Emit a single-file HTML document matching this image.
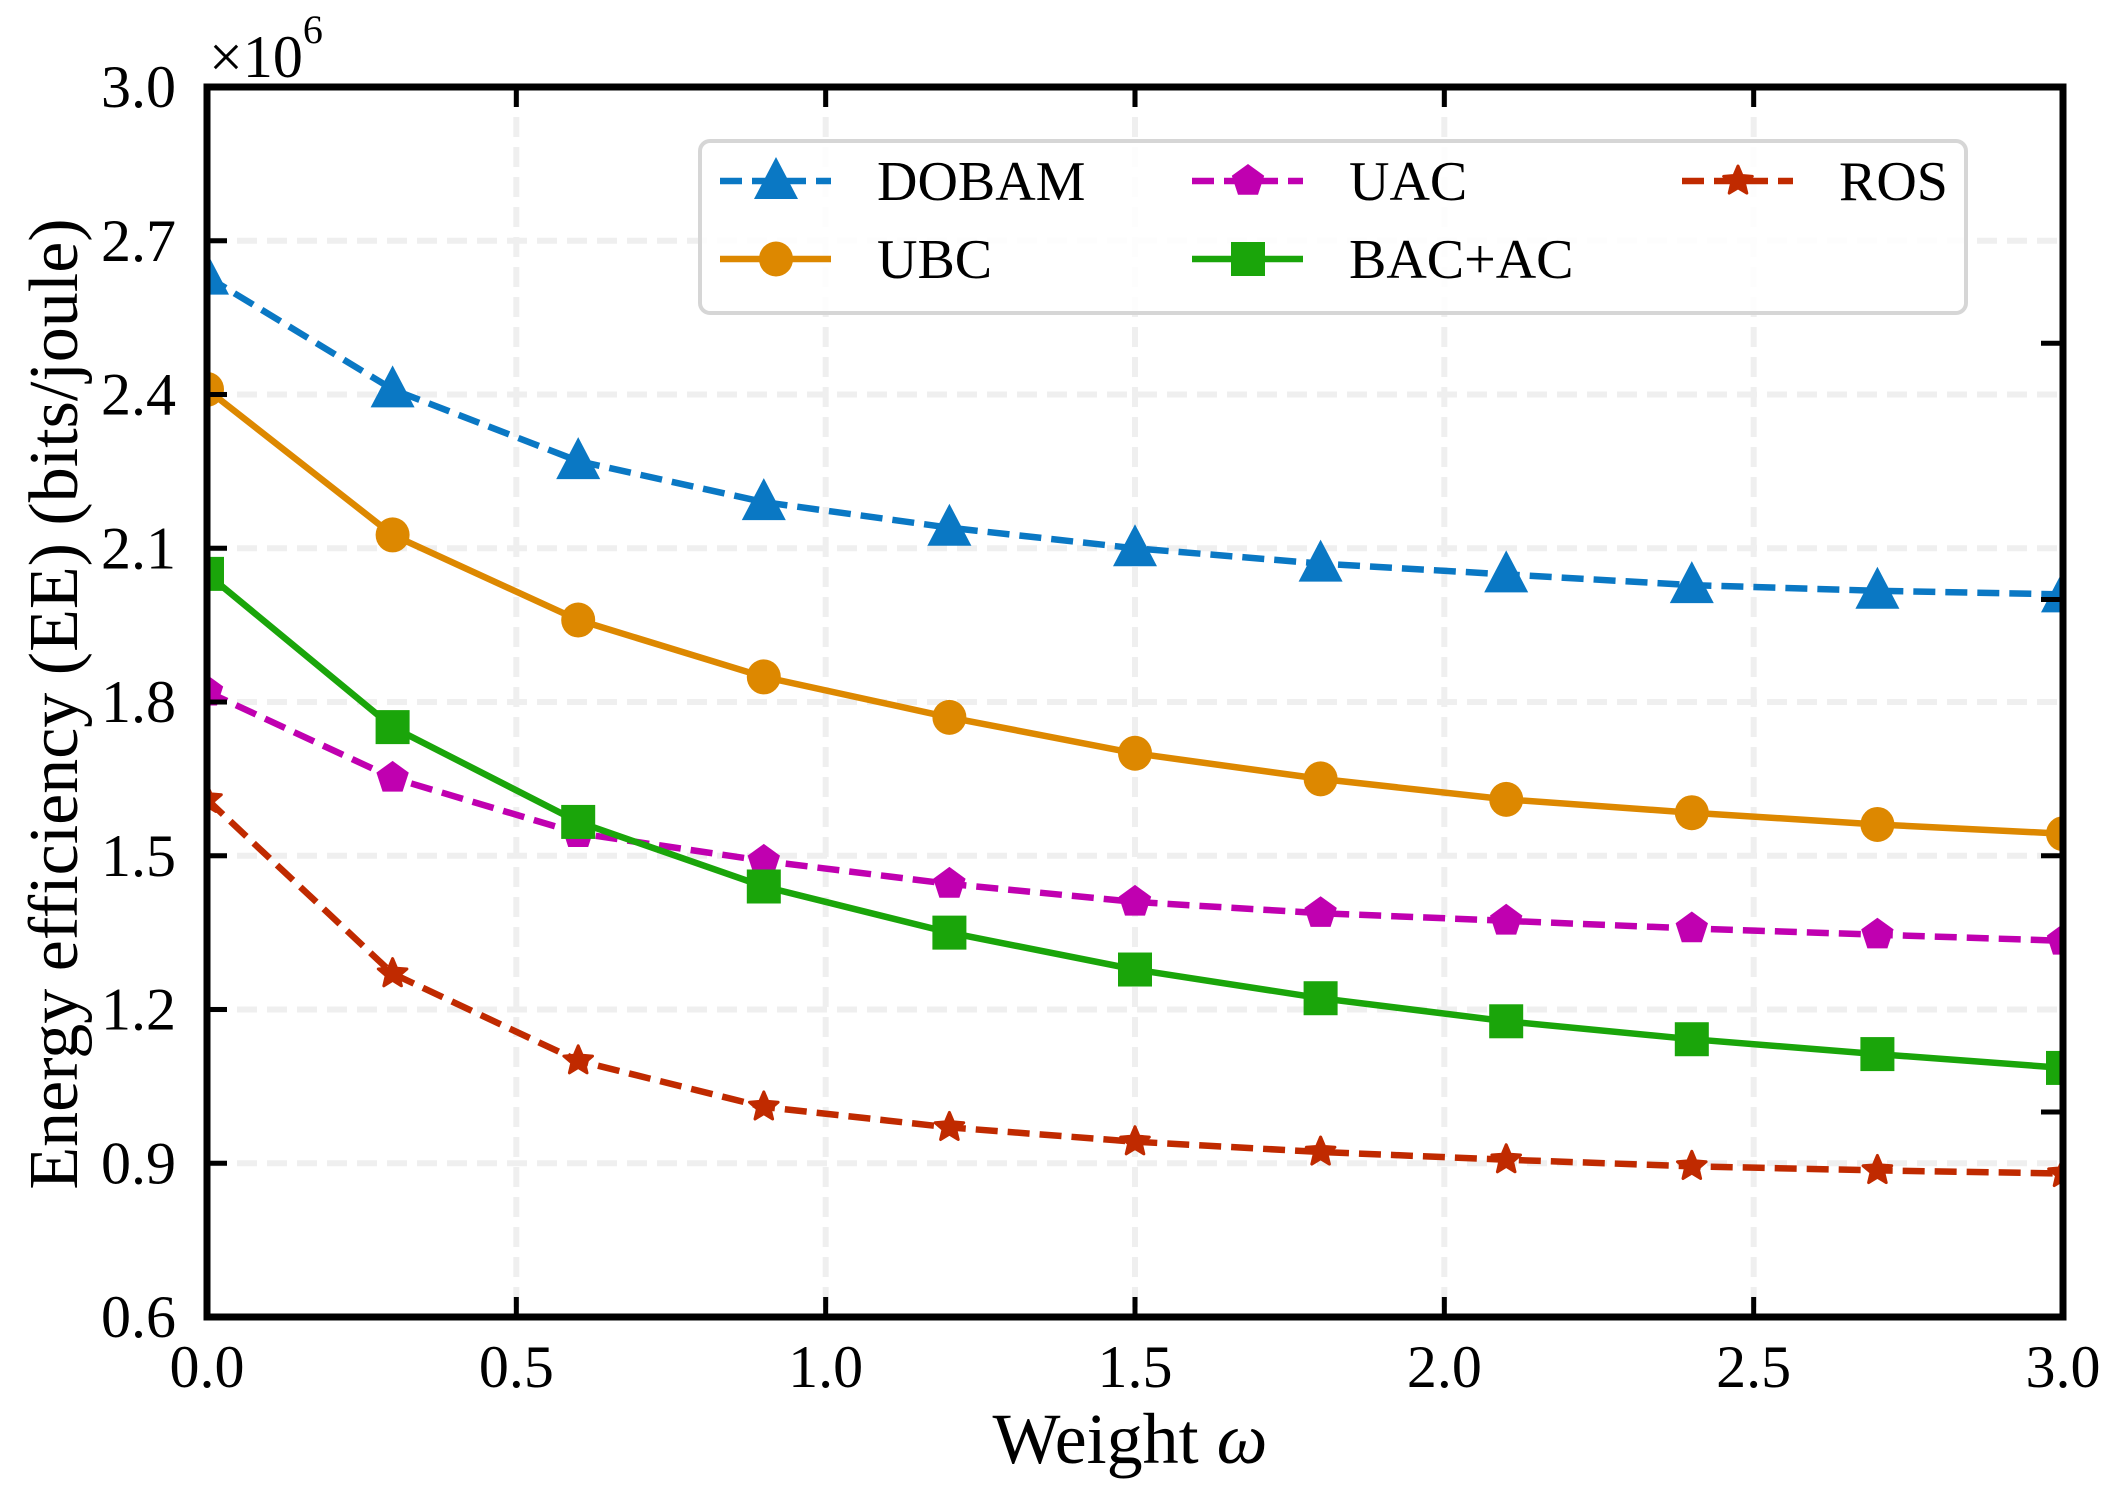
<!DOCTYPE html>
<html><head><meta charset="utf-8"><style>
html,body{margin:0;padding:0;background:#fff}
svg{display:block}
text{font-family:"Liberation Serif","DejaVu Serif",serif;fill:#000}
</style></head><body>
<svg id="chart" width="2124" height="1492" viewBox="0 0 2124 1492" xmlns="http://www.w3.org/2000/svg">
<defs><clipPath id="plotclip"><rect x="207" y="87" width="1856" height="1230"/></clipPath></defs>
<g id="grid"></g>
<g id="series" clip-path="url(#plotclip)"></g>
<g id="axes"></g>
<g id="legend"></g>
</svg>
<script>
const xValues = [0.0,0.3,0.6,0.9,1.2,1.5,1.8,2.1,2.4,2.7,3.0];
const dobam = [2.63,2.41,2.27,2.19,2.14,2.10,2.07,2.049,2.028,2.017,2.01];
const ubc = [2.41,2.126,1.96,1.849,1.77,1.70,1.65,1.61,1.584,1.561,1.543];
const uac = [1.82,1.652,1.544,1.49,1.445,1.41,1.388,1.373,1.358,1.346,1.334];
const bacac = [2.05,1.751,1.566,1.44,1.35,1.278,1.222,1.177,1.142,1.113,1.086];
const ros = [1.61,1.27,1.10,1.01,0.97,0.942,0.922,0.907,0.894,0.886,0.88];
const xTicks = ["0.0","0.5","1.0","1.5","2.0","2.5","3.0"];
const yTicks = ["0.6","0.9","1.2","1.5","1.8","2.1","2.4","2.7","3.0"];
const rightTicks = [1.0,1.5,2.0,2.5];

const NS="http://www.w3.org/2000/svg";
const L=207,R=2063,T=87,B=1317;
const xMin=0,xMax=3,yMin=0.6,yMax=3.0;
function xs(v){return L+(v-xMin)/(xMax-xMin)*(R-L);}
function ys(v){return B-(v-yMin)/(yMax-yMin)*(B-T);}
function mk(tag,attrs,parent){const e=document.createElementNS(NS,tag);for(const k in attrs)e.setAttribute(k,attrs[k]);parent.appendChild(e);return e;}

const grid=document.getElementById('grid');
xTicks.forEach(t=>{const x=xs(+t);
  const g=mk('line',{x1:x,x2:x,y1:T,y2:B,stroke:'#efefef','stroke-width':6,'stroke-dasharray':'20 10'},grid);
  
  
});
yTicks.forEach(t=>{const y=ys(+t);
  const g=mk('line',{x1:L,x2:R,y1:y,y2:y,stroke:'#efefef','stroke-width':6,'stroke-dasharray':'20 10'},grid);
  
  
});

function marker(type,cx,cy,color,parent,s){
  let e;
  if(type==='tri'){const h=s;e=mk('polygon',{points:`${cx},${cy-h*0.6} ${cx-h*0.55},${cy+h*0.45} ${cx+h*0.55},${cy+h*0.45}`,fill:color},parent);}
  else if(type==='circ'){e=mk('ellipse',{cx:cx,cy:cy,rx:s/2,ry:s/2*1.03,fill:color},parent);}
  else if(type==='sq'){e=mk('rect',{x:cx-s/2,y:cy-s/2,width:s,height:s,fill:color},parent);}
  else if(type==='pent'||type==='star'){
    const pts=[];const n=type==='pent'?5:10;const r=s/2;
    for(let i=0;i<n;i++){const a=-Math.PI/2+i*2*Math.PI/n;const rr=(type==='star'&&i%2)?r*0.45:r;pts.push((cx+rr*Math.cos(a)).toFixed(1)+','+(cy+rr*Math.sin(a)).toFixed(1));}
    e=mk('polygon',{points:pts.join(' '),fill:color,stroke:color,'stroke-width':type==='star'?3:0,'stroke-linejoin':'round'},parent);}
  return e;
}

const seriesDefs=[
  {name:'DOBAM',vals:dobam,color:'#0a78c4',dash:'22 10',m:'tri',s:40},
  {name:'UBC',vals:ubc,color:'#dd8800',dash:'',m:'circ',s:34},
  {name:'UAC',vals:uac,color:'#c000b0',dash:'22 10',m:'pent',s:34},
  {name:'BAC+AC',vals:bacac,color:'#1aa50a',dash:'',m:'sq',s:34},
  {name:'ROS',vals:ros,color:'#c02a00',dash:'22 10',m:'star',s:30}
];
const sg=document.getElementById('series');
seriesDefs.forEach(sd=>{
  const g=mk('g',{},sg);
  
  
  const pts=sd.vals.map((v,i)=>xs(xValues[i]).toFixed(1)+','+ys(v).toFixed(1)).join(' ');
  const pl=mk('polyline',{points:pts,fill:'none',stroke:sd.color,'stroke-width':6.5,'stroke-dasharray':sd.dash||'none'},g);
  
  
  sd.vals.forEach((v,i)=>{
    const m=marker(sd.m,xs(xValues[i]),ys(v),sd.color,g,sd.s);
    
    
  });
});

const ax=document.getElementById('axes');
xTicks.forEach(t=>{const x=xs(+t);
  const a=mk('line',{x1:x,x2:x,y1:B,y2:B-20,stroke:'#000','stroke-width':5},ax);
  
  
  const b=mk('line',{x1:x,x2:x,y1:T,y2:T+20,stroke:'#000','stroke-width':5},ax);
  
  
  const tx=mk('text',{x:x,y:1387,'font-size':60,'text-anchor':'middle'},ax);tx.textContent=t;
  
  
});
yTicks.forEach(t=>{const y=ys(+t);
  const a=mk('line',{x1:L,x2:L+20,y1:y,y2:y,stroke:'#000','stroke-width':5},ax);
  
  
  const tx=mk('text',{x:176,y:y+20,'font-size':60,'text-anchor':'end'},ax);tx.textContent=t;
  
  
});
rightTicks.forEach(v=>{const y=ys(v);
  const a=mk('line',{x1:R,x2:R-22,y1:y,y2:y,stroke:'#000','stroke-width':5},ax);
  
  
});
const frame=mk('rect',{x:L,y:T,width:R-L,height:B-T,fill:'none',stroke:'#000','stroke-width':7},ax);


const mult=mk('text',{x:209,y:77,'font-size':60},ax);
mult.innerHTML='×10<tspan font-size="40" dy="-34">6</tspan>';


const xl=mk('text',{x:1130,y:1463,'font-size':72,'text-anchor':'middle'},ax);
xl.innerHTML='Weight <tspan font-style="italic">ω</tspan>';


const yl=mk('text',{x:0,y:0,'font-size':70,'text-anchor':'middle',transform:'translate(77,704) rotate(-90)'},ax);
yl.textContent='Energy efficiency (EE) (bits/joule)';



const lg=document.getElementById('legend');
const box=mk('rect',{x:700,y:141,width:1266,height:172,rx:10,fill:'#fff','fill-opacity':0.85,stroke:'#d6d6d6','stroke-width':4},lg);


const legendPos=[[720,181],[720,259],[1192,181],[1192,259],[1682,181]];
seriesDefs.forEach((sd,i)=>{
  const [lx,ly]=legendPos[i];
  const g=mk('g',{},lg);
  
  
  mk('line',{x1:lx,x2:lx+111,y1:ly,y2:ly,stroke:sd.color,'stroke-width':6.5,'stroke-dasharray':sd.dash?'22 10':'none'},g);
  marker(sd.m,lx+56,ly,sd.color,g,sd.s);
  const tx=mk('text',{x:lx+157,y:ly+19,'font-size':56},g);tx.textContent=sd.name;
});
</script>
</body></html>
